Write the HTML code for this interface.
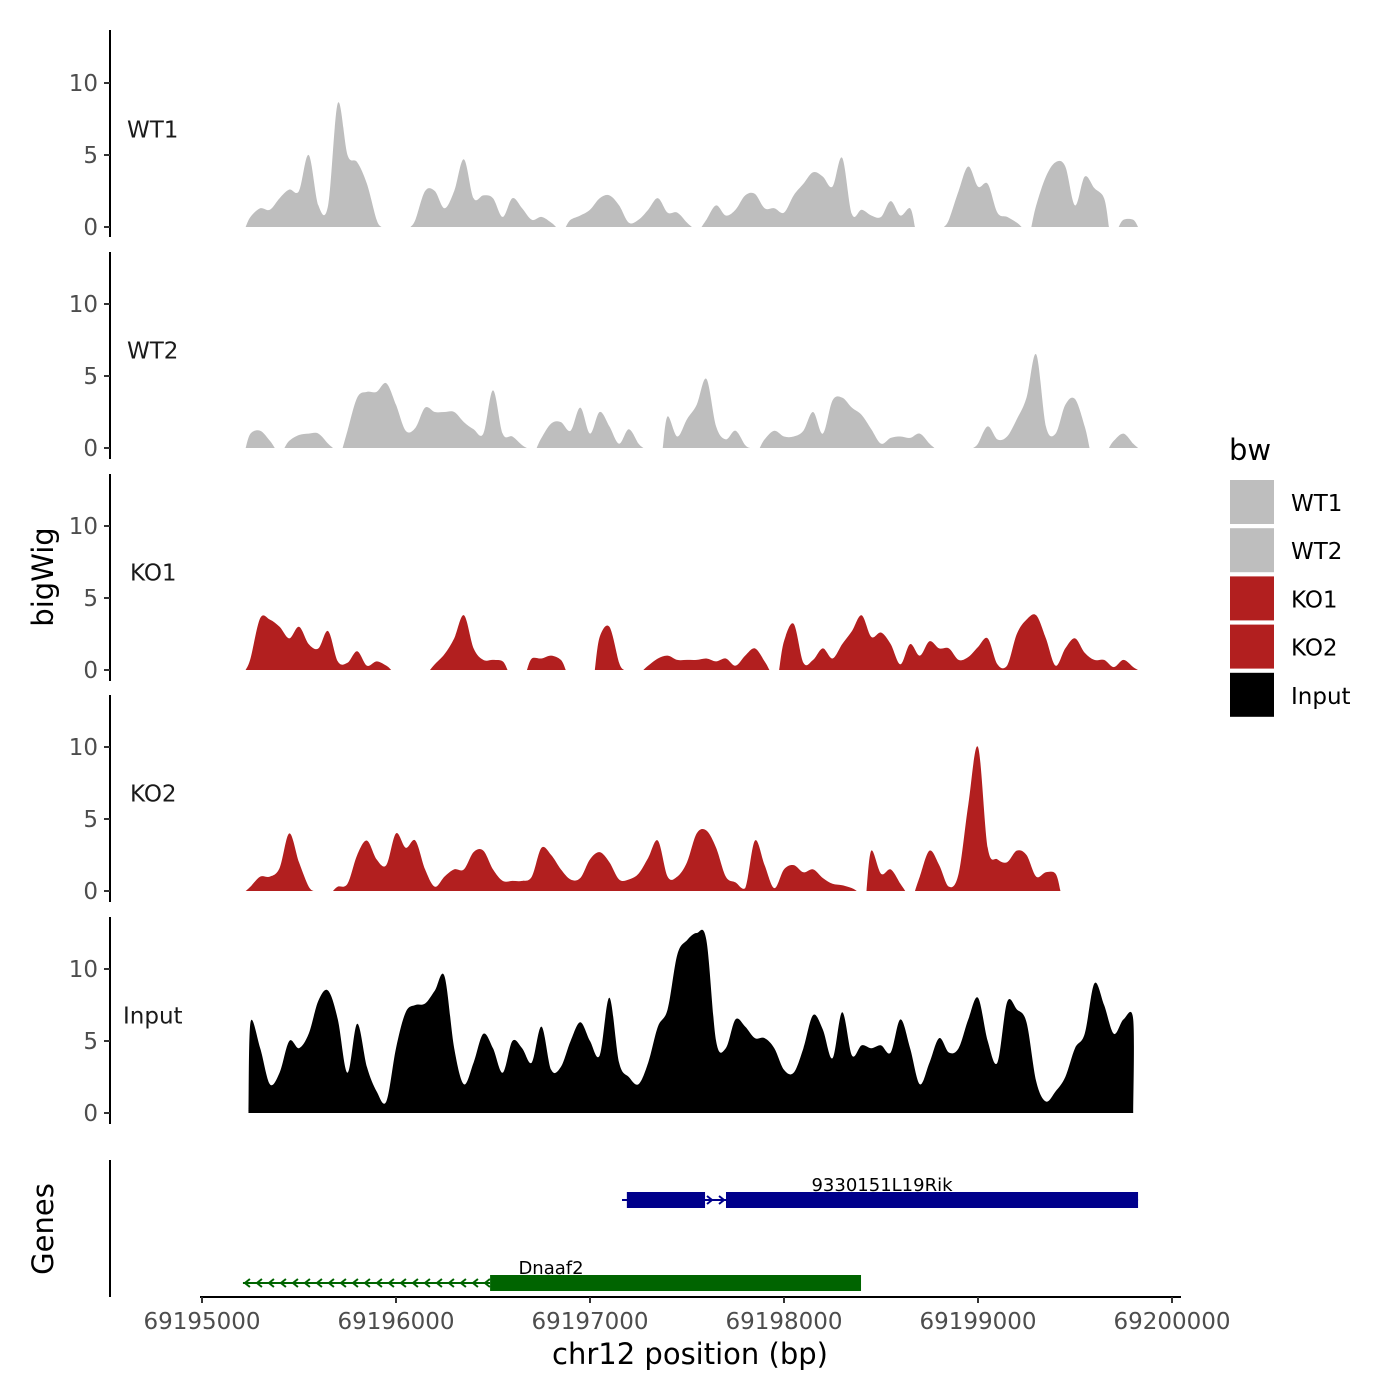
<!DOCTYPE html>
<html><head><meta charset="utf-8"><style>
body{margin:0;background:#fff}
svg{display:block;font-family:"DejaVu Sans","Liberation Sans",sans-serif}
</style></head><body>
<svg id="chart" width="1400" height="1400" viewBox="0 0 1400 1400" xmlns="http://www.w3.org/2000/svg"></svg>
<script>
const tracks = ["WT1","WT2","KO1","KO2","Input"];
const trackColors = ["#bebebe","#bebebe","#b21f1f","#b21f1f","#000000"];
const binStart = 69195250;
const binStep = 50;
const N = null;
const wt1 = [0.7,1.3,1.2,2,2.6,2.5,5,1.5,1.5,8.6,5,4.5,3,0.5,N,N,N,0.5,2.5,2.5,1.3,2.5,4.7,2,2.2,2,0.7,2,1.3,0.5,0.7,0.3,N,0.5,0.8,1.2,2,2.2,1.5,0.3,0.5,1.2,2,1,1,0.3,N,0.5,1.5,0.8,1.2,2.2,2.3,1.3,1.3,1,2.2,3,3.8,3.5,2.8,4.8,0.9,1.2,0.8,0.7,1.8,0.8,1.3,N,N,N,0.5,2.5,4.2,2.8,3,1,0.7,0.3,N,1.5,3.5,4.5,4.2,1.5,3.5,2.7,2,N,0.5,0.5];
const wt2 = [1,1.2,0.5,N,0.5,0.9,1,1,0.3,N,1.2,3.5,3.9,3.9,4.5,3,1.2,1.4,2.8,2.5,2.5,2.5,1.8,1.3,1,4,1,0.8,0.2,N,0.7,1.7,1.8,1.2,2.8,1,2.5,1.5,0.3,1.3,0.3,N,N,2.2,0.8,2,3,4.8,1.5,0.6,1.2,0.2,N,0.6,1.2,0.8,0.8,1.2,2.5,1,3.3,3.5,2.8,2.3,1.3,0.3,0.7,0.8,0.7,1,0.3,N,N,N,N,0.3,1.5,0.6,0.8,2,3.5,6.5,1.5,1,3,3.4,1.5,N,N,0.5,1,0.3];
const ko1 = [0.8,3.6,3.5,3,2.2,3,1.8,1.5,2.7,0.6,0.5,1.3,0.3,0.6,0.3,N,N,N,N,0.4,1.1,2.2,3.8,1.5,0.7,0.7,0.6,N,N,0.8,0.8,1,0.7,N,N,N,2.3,3,0.5,N,N,0.3,0.8,1,0.7,0.7,0.7,0.8,0.6,0.8,0.3,1,1.5,0.6,N,2,3.2,0.5,0.7,1.5,0.8,1.8,2.7,3.8,2.3,2.6,1.8,0.4,1.8,1,2,1.5,1.5,0.7,0.9,1.6,2.2,0.4,0.3,2.5,3.5,3.8,2.2,0.3,1.5,2.2,1.2,0.7,0.7,0.2,0.7,0.2];
const ko2 = [0.3,1,1,1.6,4,2,0.3,N,N,0.3,0.5,2.5,3.5,2.2,1.8,4,3,3.5,1.5,0.3,1,1.5,1.5,2.7,2.8,1.5,0.7,0.7,0.7,1,3,2.5,1.5,0.8,0.9,2.2,2.7,2,0.8,0.8,1.2,2.3,3.5,1,1,2,4,4.2,3,1,0.6,0.2,3.5,1.8,0.2,1.5,1.8,1.3,1.5,0.9,0.5,0.4,0.2,N,2.8,1.2,1.5,0.5,N,1,2.8,1.8,0.3,1.2,6,10,3,2.2,2,2.8,2.5,1,1.3,1.2,N,N,N,N,N,N,N,N];
const input = [6.3,4.5,2,2.8,5,4.5,5.5,7.8,8.5,6.5,2.8,6.2,3.2,1.5,0.8,4.5,7,7.5,7.6,8.5,9.5,4.5,2,3.5,5.5,4.5,2.8,5,4.5,3.5,6,3,3.2,5,6.3,5,4,8,3.5,2.5,2,3.5,6,7.2,11,12,12.5,12,5,4.5,6.5,6,5.2,5.2,4.5,3,2.8,4.5,6.8,5.8,3.8,7,4,4.7,4.5,4.7,4.2,6.5,4.5,2,3.5,5.2,4.2,4.5,6.5,8,5,3.5,7.7,7.2,6.3,2.2,0.8,1.5,2.5,4.5,5.5,9,7.5,5.5,6.5,6.5];
const series = [wt1,wt2,ko1,ko2,input];
const yTicks = [0,5,10];
const xTicks = [69195000,69196000,69197000,69198000,69199000,69200000];
const xTickLabels = ["69195000","69196000","69197000","69198000","69199000","69200000"];
const geneNames = ["9330151L19Rik","Dnaaf2"];
const geneStart = [69197165,69195211];
const geneEnd = [69199825,69196485];
const geneStrand = ["+","-"];
const exonStarts = [[69197190,69197701],[69196485]];
const exonEnds = [[69197593,69199825],[69198397]];
const geneColors = ["#00008b","#006400"];

const NS="http://www.w3.org/2000/svg";
const svg=document.getElementById('chart');
function mk(tag,attrs,parent){const e=document.createElementNS(NS,tag);for(const k in attrs)e.setAttribute(k,attrs[k]);(parent||svg).appendChild(e);return e;}
const X0=69195000, PX0=202, PXPER=0.194;
function xs(bp){return PX0+(bp-X0)*PXPER;}
const panelTop=[30,252,474,695,917];
const baseY=[227,448,670,891,1113];
const PPU=14.4;
function ys(p,v){return baseY[p]-v*PPU;}

for(let p=0;p<5;p++){
  const g=mk('g',{});
  
  
  const ax=mk('line',{x1:110,x2:110,y1:panelTop[p],y2:panelTop[p]+207,stroke:'#000','stroke-width':2},g);
  
  
  yTicks.forEach(t=>{
    const y=ys(p,t);
    const tk=mk('line',{x1:104,x2:110,y1:y,y2:y,stroke:'#333','stroke-width':2},g);
    
    
    const tl=mk('text',{x:98,y:y+8,'text-anchor':'end','font-size':23,fill:'#4d4d4d'},g);
    tl.textContent=t;
    
    
  });
  const lab=mk('text',{x:tracks[p]==='Input'?123:(p<2?127:130),y:ys(p,6.2),'font-size':23,fill:'#1a1a1a'},g);
  lab.textContent=tracks[p];
  
  
  const data=series[p];
  let seg=[];
  const flush=()=>{
    if(seg.length){
      const pts=seg.map(i=>[xs(binStart+i*binStep),ys(p,data[i])]);
      const h=binStep*PXPER*0.5;
      const isInput=p===4;
      const first=[pts[0][0]-(isInput?2:h),baseY[p]];
      const last=[pts[pts.length-1][0]+(isInput?0:h),baseY[p]];
      const all=[first].concat(pts,[last]);
      let d='M'+first[0]+','+baseY[p];
      for(let k=0;k<all.length-1;k++){
        const p0=all[Math.max(0,k-1)],p1=all[k],p2=all[k+1],p3=all[Math.min(all.length-1,k+2)];
        const c1x=p1[0]+(p2[0]-p0[0])/6, c1y=Math.min(baseY[p],p1[1]+(p2[1]-p0[1])/6);
        const c2x=p2[0]-(p3[0]-p1[0])/6, c2y=Math.min(baseY[p],p2[1]-(p3[1]-p1[1])/6);
        d+=`C${c1x},${c1y} ${c2x},${c2y} ${p2[0]},${p2[1]}`;
      }
      d+='Z';
      const a=mk('path',{d:d,fill:trackColors[p]},g);
      
      
    }
    seg=[];
  };
  for(let i=0;i<data.length;i++){ if(data[i]===null) flush(); else seg.push(i);} flush();
}
let t=mk('text',{x:0,y:0,'font-size':29,fill:'#000',transform:'translate(53,577) rotate(-90)','text-anchor':'middle'});
t.textContent='bigWig';
t=mk('text',{x:0,y:0,'font-size':29,fill:'#000',transform:'translate(53,1229) rotate(-90)','text-anchor':'middle'});
t.textContent='Genes';
let l=mk('line',{x1:110,x2:110,y1:1160,y2:1297,stroke:'#000','stroke-width':2});

l=mk('line',{x1:200,x2:1181,y1:1297,y2:1297,stroke:'#000','stroke-width':2});

xTicks.forEach((v,i)=>{
  const x=xs(v);
  const tk=mk('line',{x1:x,x2:x,y1:1297,y2:1303,stroke:'#333','stroke-width':2});
  
  const tl=mk('text',{x:x,y:1329,'text-anchor':'middle','font-size':23,fill:'#4d4d4d'});
  tl.textContent=xTickLabels[i];
});
t=mk('text',{x:690,y:1364,'text-anchor':'middle','font-size':29,fill:'#000'});
t.textContent='chr12 position (bp)';
const geneY=[1200,1283];
geneNames.forEach((n,gi)=>{
  const g=mk('g',{});
  
  
  const y=geneY[gi],c=geneColors[gi];
  const x1=xs(geneStart[gi]),x2=xs(geneEnd[gi]);
  mk('line',{x1:x1,x2:x2,y1:y,y2:y,stroke:c,'stroke-width':2},g);
  const dir=geneStrand[gi]==='+'?1:-1;
  for(let x=x1+4;x<x2;x+=12){
    let inExon=false;
    exonStarts[gi].forEach((s,k)=>{if(x>xs(s)-2&&x<xs(exonEnds[gi][k])+2)inExon=true;});
    if(inExon)continue;
    mk('path',{d:`M${x-3*dir},${y-4}L${x+2*dir},${y}L${x-3*dir},${y+4}`,fill:'none',stroke:c,'stroke-width':2},g);
  }
  exonStarts[gi].forEach((s,k)=>{
    const r=mk('rect',{x:xs(s),y:y-8,width:xs(exonEnds[gi][k])-xs(s),height:16,fill:c},g);
    
  });
  const lx=gi===0?882:551;
  const tl=mk('text',{x:lx,y:y-9,'text-anchor':'middle','font-size':18,fill:'#000'},g);
  tl.textContent=n;
});
const lg=mk('g',{});

t=mk('text',{x:1229,y:460,'font-size':29,fill:'#000'},lg);
t.textContent='bw';
tracks.forEach((n,i)=>{
  const e=mk('g',{},lg);
  
  
  const y=480+i*48.2;
  mk('rect',{x:1230,y:y,width:44,height:44,fill:trackColors[i]},e);
  const tx=mk('text',{x:1291,y:y+31,'font-size':23,fill:'#000'},e);
  tx.textContent=n;
});
</script>
</body></html>
